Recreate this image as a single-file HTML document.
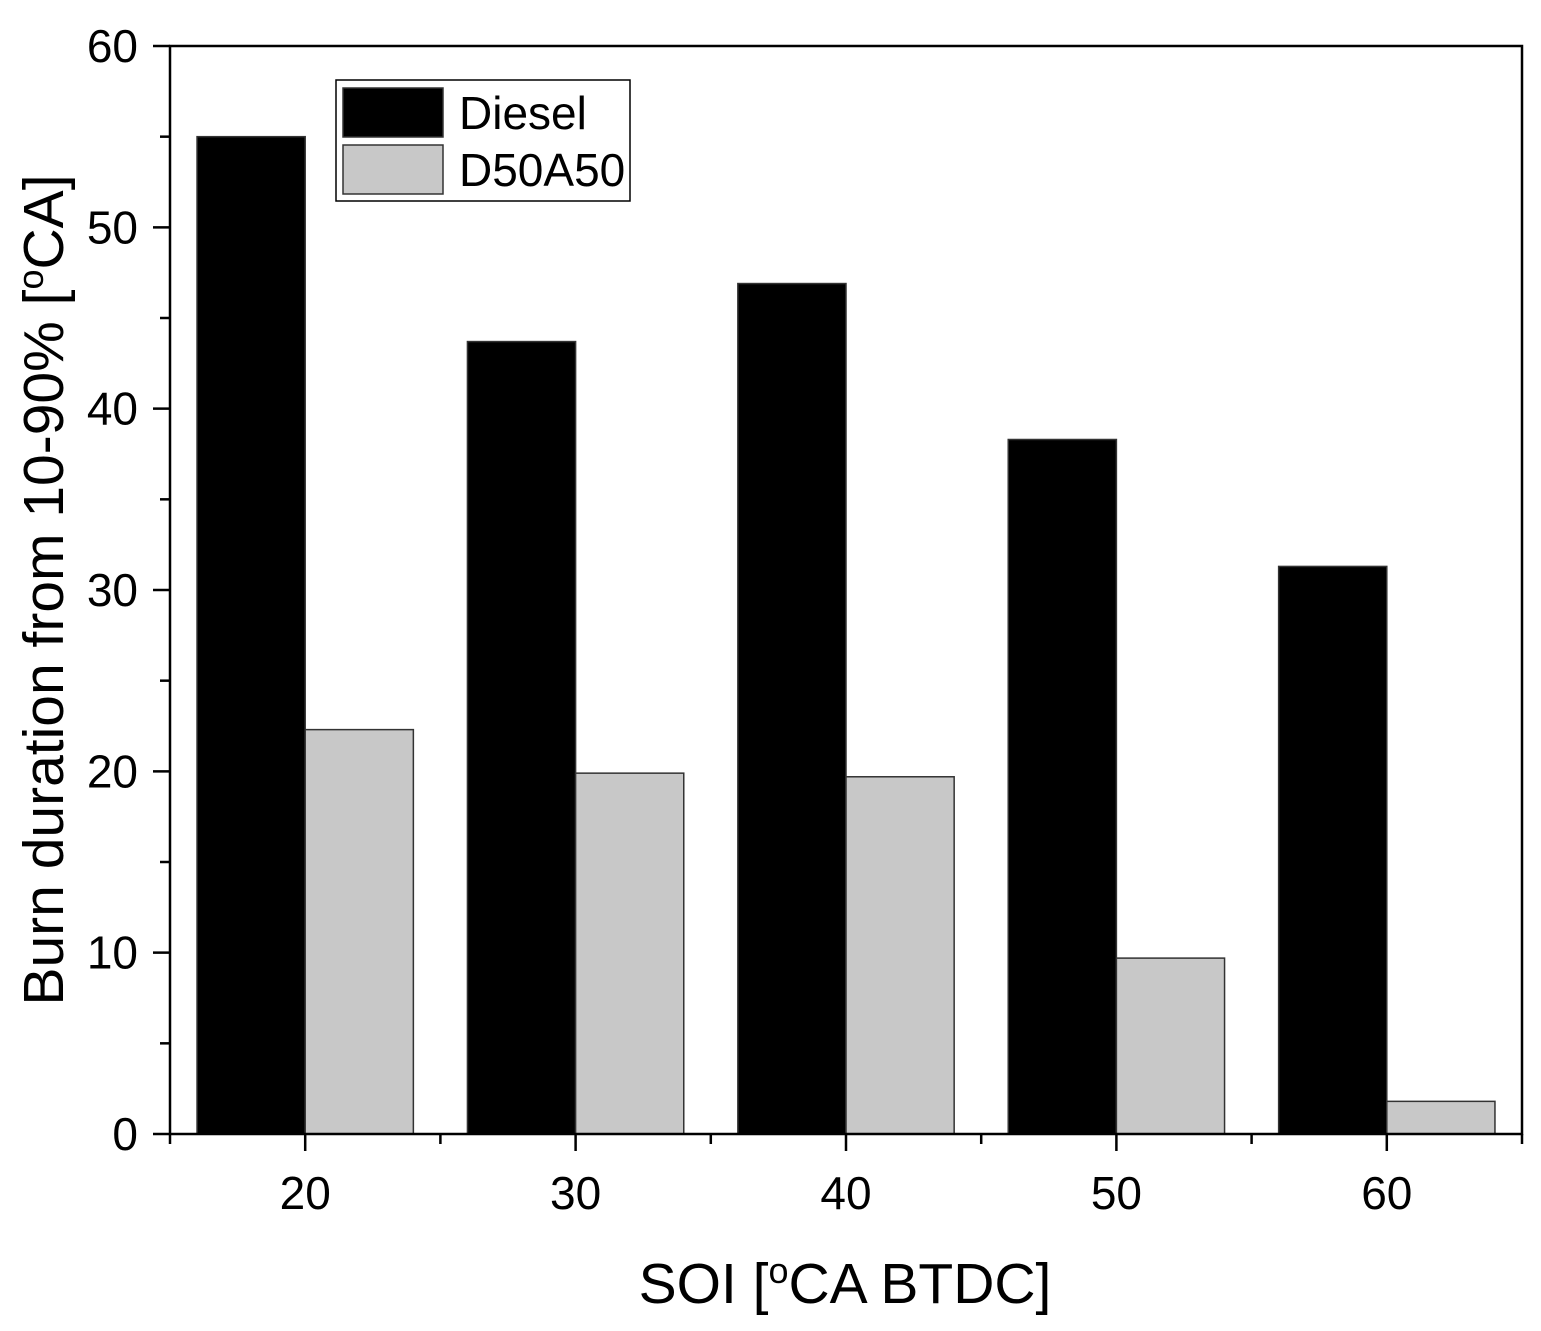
<!DOCTYPE html>
<html><head><meta charset="utf-8"><style>
html,body{margin:0;padding:0;background:#fff;}
svg{display:block;font-family:"Liberation Sans",Arial,sans-serif;}
</style></head><body>
<svg id="chart" width="1541" height="1331" viewBox="0 0 1541 1331">
<g id="bars"></g>
<g id="axes"></g>
<g id="legend">
  <rect x="336" y="80" width="294" height="121" fill="#fff" stroke="#000" stroke-width="1.5"/>
  <rect x="343" y="88" width="100" height="49" fill="#000" stroke="#333" stroke-width="1.5"/>
  <text x="459" y="129" font-size="46">Diesel</text>
  <rect x="343" y="145" width="100" height="49" fill="#c8c8c8" stroke="#333" stroke-width="1.5"/>
  <text x="459" y="186" font-size="46">D50A50</text>
</g>
<text x="845" y="1303" font-size="57" text-anchor="middle">SOI [<tspan font-size="36" dy="-20">o</tspan><tspan dy="20">CA BTDC]</tspan></text>
<text transform="translate(63,590) rotate(-90)" font-size="57" text-anchor="middle">Burn duration from 10-90% [<tspan font-size="36" dy="-20">o</tspan><tspan dy="20">CA]</tspan></text>
</svg>
<script>
const categories=[20,30,40,50,60];
const dieselValues=[55.0,43.7,46.9,38.3,31.3];
const blendValues=[22.3,19.9,19.7,9.7,1.8];
const yTicks=[0,10,20,30,40,50,60];
const xTicks=[20,30,40,50,60];
const NS="http://www.w3.org/2000/svg";
const L=170,R=1522,T=46,B=1134;
const xMin=15,xMax=65,yMin=0,yMax=60;
const xs=v=>L+(v-xMin)/(xMax-xMin)*(R-L);
const ys=v=>B-(v-yMin)/(yMax-yMin)*(B-T);
function mk(tag,attrs,parent){const e=document.createElementNS(NS,tag);for(const k in attrs)e.setAttribute(k,attrs[k]);parent.appendChild(e);return e;}
const bars=document.getElementById('bars');
const axes=document.getElementById('axes');
const bw=4;
categories.forEach((c,i)=>{
  let r=mk('rect',{x:xs(c-bw),y:ys(dieselValues[i]),width:xs(c)-xs(c-bw),height:ys(0)-ys(dieselValues[i]),fill:'#000',stroke:'#333','stroke-width':1.5},bars);
  
  
  let r2=mk('rect',{x:xs(c),y:ys(blendValues[i]),width:xs(c+bw)-xs(c),height:ys(0)-ys(blendValues[i]),fill:'#c8c8c8',stroke:'#333','stroke-width':1.5},bars);
  
  
});
let f=mk('rect',{x:L,y:T,width:R-L,height:B-T,fill:'none',stroke:'#000','stroke-width':2.5},axes);


yTicks.forEach(v=>{
  mk('line',{x1:L-17,x2:L,y1:ys(v),y2:ys(v),stroke:'#000','stroke-width':2.5},axes);
  if(v<yMax) mk('line',{x1:L-10,x2:L,y1:ys(v+5),y2:ys(v+5),stroke:'#000','stroke-width':2.5},axes);
  let t=mk('text',{x:L-32,y:ys(v)+16,'font-size':46,'text-anchor':'end'},axes);
  t.textContent=v;
  
  
});
xTicks.forEach(v=>{
  mk('line',{x1:xs(v),x2:xs(v),y1:B,y2:B+17,stroke:'#000','stroke-width':2.5},axes);
  mk('line',{x1:xs(v-5),x2:xs(v-5),y1:B,y2:B+10,stroke:'#000','stroke-width':2.5},axes);
  let t=mk('text',{x:xs(v),y:B+75,'font-size':46,'text-anchor':'middle'},axes);
  t.textContent=v;
  
  
});
mk('line',{x1:xs(65),x2:xs(65),y1:B,y2:B+10,stroke:'#000','stroke-width':2.5},axes);
</script>
</body></html>
